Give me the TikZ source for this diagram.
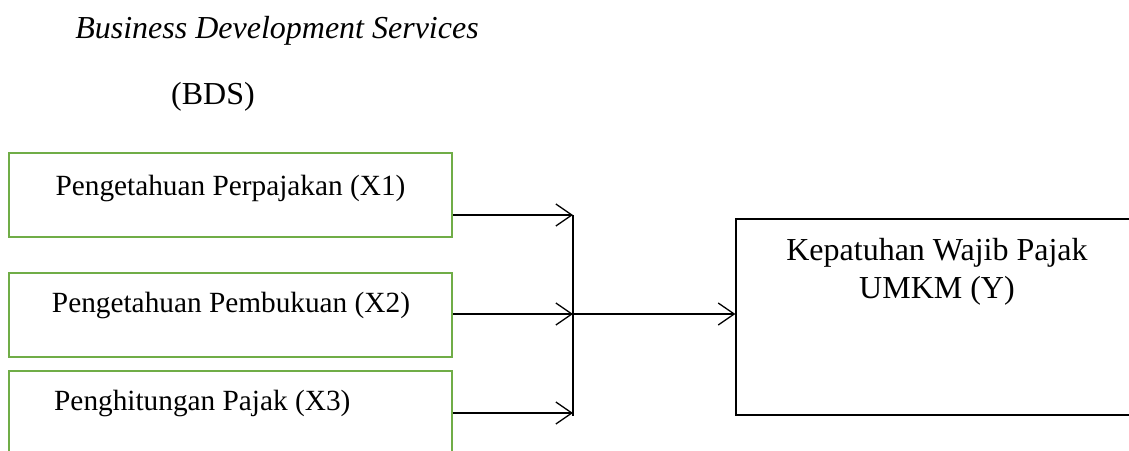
\documentclass[tikz,border=0pt]{standalone}
\usepackage{fontspec}
\setmainfont{Liberation Serif}
\usetikzlibrary{arrows.meta}
\definecolor{boxgreen}{HTML}{70AD47}
\tikzset{
  gbox/.style={draw=boxgreen, line width=2.5pt, rectangle, inner sep=0pt},
  ybox/.style={draw=black, line width=1.3pt, rectangle, inner sep=0pt},
  btxt/.style={inner sep=0pt, font=\fontsize{29.3}{35}\selectfont},
  htxt/.style={inner sep=0pt, font=\fontsize{32}{38}\selectfont},
  conn/.style={draw=black, line width=1.3pt},
  arr/.style={conn, -{Straight Barb[length=16pt, width=22pt, line width=1.3pt]}}
}
\begin{document}
\begin{tikzpicture}[x=1pt, y=-1pt]
\useasboundingbox (0,0) rectangle (1129,450);
\clip (0,0) rectangle (1129,450);
% heading
\node[htxt, font=\fontsize{32}{38}\selectfont\itshape] (head) at (277,31) {Business Development Services};
\node[htxt] (bds) at (213,97) {(BDS)};
% green boxes
\node[gbox, minimum width=443pt, minimum height=84pt] (b1) at (230.5,195) {};
\node[gbox, minimum width=443pt, minimum height=84pt] (b2) at (230.5,315) {};
\node[gbox, minimum width=443pt, minimum height=100pt] (b3) at (230.5,421) {};
\node[btxt] (t1) at (230.5,188) {Pengetahuan Perpajakan (X1)};
\node[btxt] (t2) at (231,305) {Pengetahuan Pembukuan (X2)};
\node[btxt, anchor=west] (t3) at (54,403) {Penghitungan Pajak (X3)};
% dependent box
\node[ybox, minimum width=420pt, minimum height=196pt] (y) at (946,317) {};
\node[htxt, align=center] (ty) at (937,272) {Kepatuhan Wajib Pajak\\UMKM (Y)};
% junction
\coordinate (j1) at (573,215);
\coordinate (j2) at (573,314);
\coordinate (j3) at (573,413);
\coordinate (jb) at (573,416);
\draw[arr] (b1.east |- j1) -- (j1);
\draw[arr] (b2.east |- j2) -- (j2);
\draw[arr] (b3.east |- j3) -- (j3);
\draw[conn] (j1) -- (jb);
\draw[arr] (j2) -- (y.west |- j2);
\end{tikzpicture}
\end{document}
